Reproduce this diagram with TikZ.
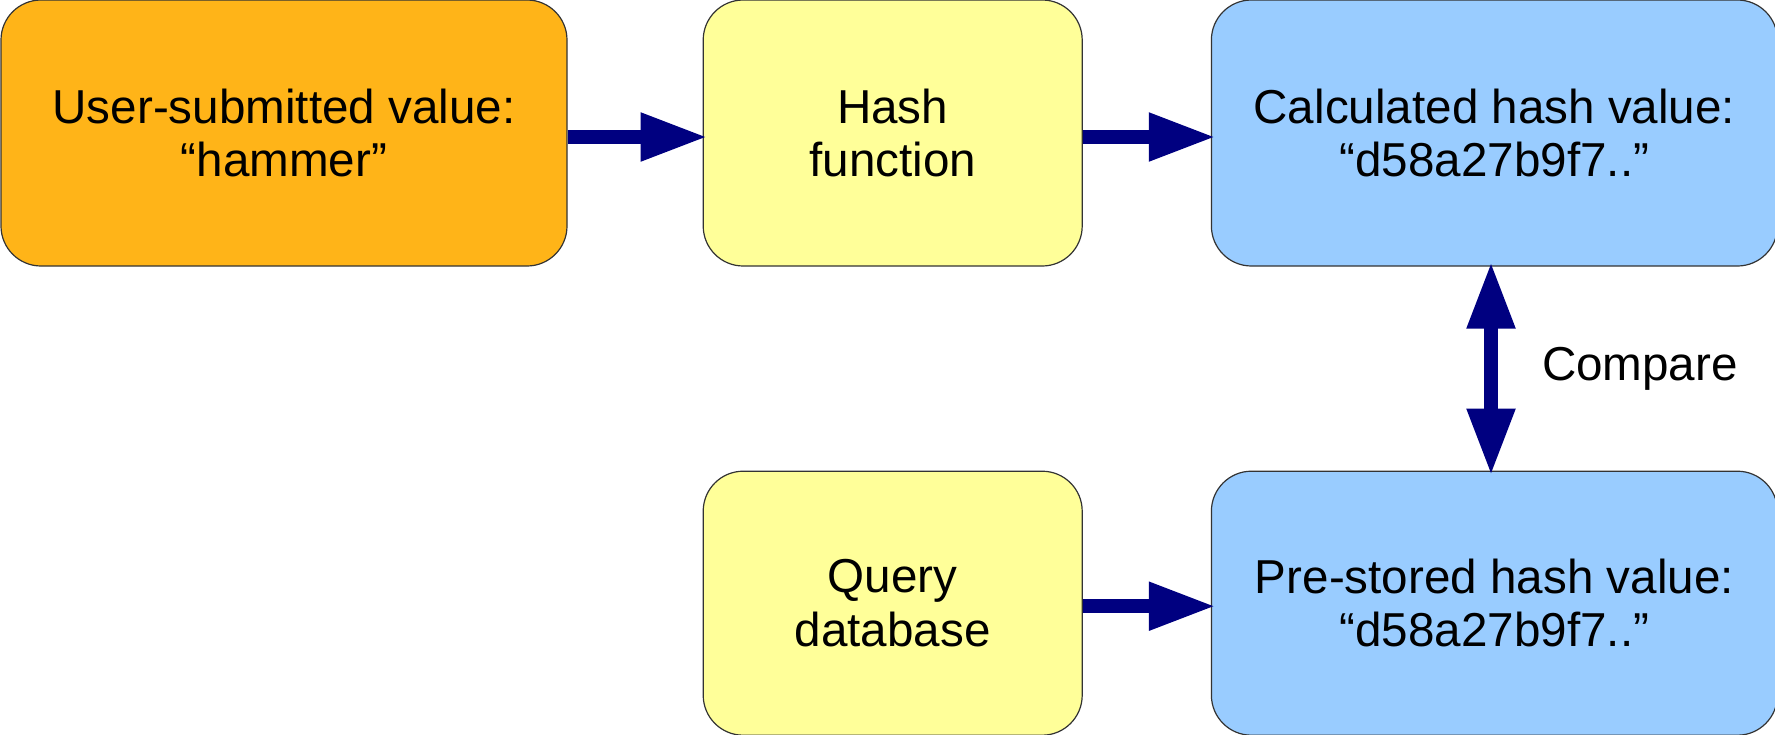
\documentclass[tikz,border=0pt]{standalone}
\usepackage{fontspec}
\setmainfont{Liberation Sans}
\usetikzlibrary{arrows.meta,positioning}
\definecolor{boxorange}{HTML}{FFB418}
\definecolor{boxyellow}{HTML}{FFFF99}
\definecolor{boxblue}{HTML}{99CCFF}
\definecolor{arrownavy}{HTML}{000080}
\tikzset{
    box/.style={rectangle, rounded corners=20pt, align=center,
        minimum height=133pt, inner sep=6pt,
        draw=black!80, line width=0.6pt,
        font=\fontsize{23.8}{26.6}\selectfont},
    widebox/.style={box, minimum width=283pt},
    smallbox/.style={box, minimum width=189.5pt},
    arrow/.style={-{Triangle[length=33.5pt,width=22.5pt]}, shorten >=-2.5pt, line width=7pt, draw=arrownavy},
    darrow/.style={arrow, {Triangle[length=33.5pt,width=22.5pt]}-{Triangle[length=33.5pt,width=22.5pt]}, shorten <=-2.5pt},
    note/.style={inner sep=0pt, font=\fontsize{23.8}{26.6}\selectfont}
}
\begin{document}
\begin{tikzpicture}
    \useasboundingbox (0,0) rectangle (887.5pt,-367pt);
    \node[widebox, fill=boxorange] (user) at (142pt,-66.5pt) {User-submitted value:\\“hammer”};
    \node[smallbox, fill=boxyellow, right=67.5pt of user] (hash) {Hash\\function};
    \node[widebox, fill=boxblue, right=64pt of hash] (calc) {Calculated hash value:\\“d58a27b9f7..”};
    \node[widebox, fill=boxblue, below=102pt of calc, minimum height=132pt] (stored) {Pre-stored hash value:\\“d58a27b9f7..”};
    \node[smallbox, fill=boxyellow, left=64pt of stored, minimum height=132pt] (query) {Query\\database};
    \path ([yshift=-2pt]user.east) edge [arrow] ([yshift=-2pt]hash.west)
        ([yshift=-2pt]hash.east) edge [arrow] ([yshift=-2pt]calc.west)
        ([yshift=-1.5pt]query.east) edge [arrow] ([yshift=-1.5pt]stored.west)
        ([xshift=-1.7pt]calc.south) edge [darrow] node[note, right=22pt] {Compare} ([xshift=-1.7pt]stored.north);
\end{tikzpicture}
\end{document}
